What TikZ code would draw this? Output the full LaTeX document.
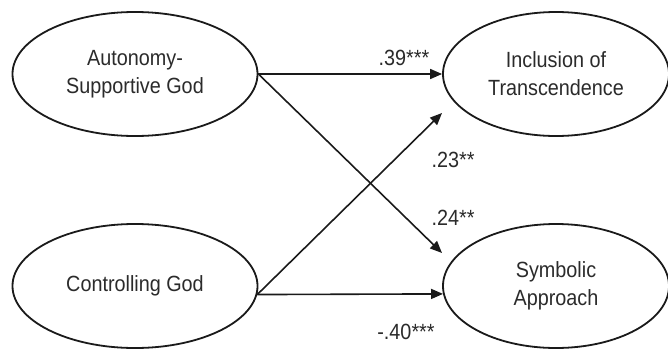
\documentclass[tikz,border=0pt]{standalone}
\usepackage{fontspec}
\setmainfont{Liberation Sans}[FakeStretch=0.9]
\usetikzlibrary{shapes.geometric,arrows.meta}
\definecolor{txt}{HTML}{2B2B2B}
\definecolor{ln}{HTML}{1A1A1A}
\tikzset{
  latent/.style={ellipse, draw=ln, line width=1.8pt, inner sep=0pt, text=txt,
    align=center, font=\fontsize{22}{28}\selectfont},
  path/.style={draw=ln, line width=1.6pt, -{Triangle[length=12pt,width=10pt]}},
  coef/.style={text=txt, font=\fontsize{22}{24}\selectfont, inner sep=0pt}
}
\begin{document}
\begin{tikzpicture}[x=1pt,y=-1pt]
\fill[white] (0,0) rectangle (668,348);
\useasboundingbox (0,0) rectangle (668,348);
\begin{scope}
\clip (0,0) rectangle (668,348);
\node[latent, minimum width=245, minimum height=124] (aut) at (135,74) {Autonomy-\\Supportive God};
\node[latent, minimum width=245, minimum height=124] (ctl) at (135,286) {Controlling God};
\node[latent, minimum width=226, minimum height=124] (inc) at (556,74) {Inclusion of\\Transcendence};
\node[latent, minimum width=226, minimum height=124] (sym) at (556,286) {Symbolic\\Approach};
\end{scope}
\coordinate (inctip) at (442,113);
\coordinate (symtip) at (442,253);
\draw[path] (aut.east) -- (inc.west);
\draw[path] (aut.east) -- (symtip);
\draw[path] (ctl.-4.3) -- (inctip);
\draw[path] (ctl.-4.3) -- (sym.184.5);
\node[coef] (c1) at (404,58) {.39***};
\node[coef] (c2) at (453,160) {.23**};
\node[coef] (c3) at (453,218) {.24**};
\node[coef] (c4) at (406,332) {-.40***};
\end{tikzpicture}
\end{document}
